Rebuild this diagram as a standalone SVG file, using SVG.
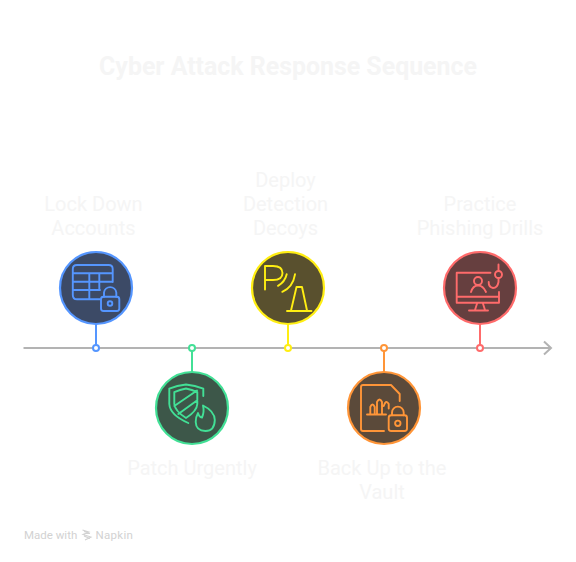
<svg xmlns="http://www.w3.org/2000/svg" width="576" height="562" viewBox="0 0 576 562">
<style>
.t{font-family:Roboto,"Liberation Sans",sans-serif;fill:#f5f5f5;text-anchor:middle}
.title{font-size:24.900px;font-weight:700}
.lab{font-size:20px;font-weight:400}
.ic{fill:none;stroke-width:1.900;stroke-linecap:round;stroke-linejoin:round}
.conn{fill:none;stroke-width:2}
.c{stroke-width:2.200}
.dot{fill:#fff;stroke-width:2}
.f{font-family:Roboto,"Liberation Sans",sans-serif;font-size:11.500px;fill:#d2d2d2}
</style>
<rect width="576" height="562" fill="#fff"/>
<text class="t title" x="288" y="75">Cyber Attack Response Sequence</text>
<g id="connectors">
<path d="M23.500 348H551M544 341.500L551 348L544 354.500" fill="none" stroke="#b3b3b3" stroke-width="2"/>
<path class="conn" stroke="#5596ff" d="M96 324V345"/>
<path class="conn" stroke="#42e096" d="M192 351V372"/>
<path class="conn" stroke="#ffee12" d="M288 324V345"/>
<path class="conn" stroke="#ff9538" d="M384 351V372"/>
<path class="conn" stroke="#ff6b6b" d="M480 324V345"/>
</g>
<g id="node-lock">
<circle class="c" cx="96" cy="288" r="36" fill="#3c4a66" stroke="#5596ff"/>
<circle class="dot" cx="96" cy="348" r="3" stroke="#5596ff"/>
<path class="ic" stroke="#5596ff" d="M112.700 282V269Q112.700 265 108.700 265H77Q72.800 265 72.800 269V295Q72.800 299.300 77 299.300H100M72.800 273.300H112.700M72.800 281.700H112.700M72.800 290H100M89.300 273.300V299.300M99.300 273.300V290"/>
<rect class="ic" stroke="#5596ff" x="101" y="296.700" width="18.300" height="14.300" rx="2.500"/>
<path class="ic" stroke="#5596ff" d="M104 296.700V292.500A6.200 6.200 0 0 1 116.300 292.500V296.700"/>
<circle class="ic" stroke="#5596ff" cx="110" cy="303.500" r="2.300"/>
<text class="t lab" x="93.500" y="211">Lock Down</text>
<text class="t lab" x="93.500" y="235">Accounts</text>
</g>
<g id="node-patch">
<circle class="c" cx="192" cy="408" r="36" fill="#3d5749" stroke="#42e096"/>
<circle class="dot" cx="192" cy="348" r="3" stroke="#42e096"/>
<path class="ic" stroke="#42e096" d="M203.300 396V388.700Q195 385.500 186 384.500Q177 385.500 169.300 388.700V404Q170 415 188.300 423"/>
<path class="ic" stroke="#42e096" d="M174.300 392.200Q180 389.500 186 388.500Q192 389.500 197.300 392.200V404Q197 411 186 418Q175 411 174.300 404ZM174.300 406L197 390.500M178.300 414L197.300 400.300"/>
<path class="ic" stroke="#42e096" d="M203 405.500Q214.500 411 214.800 420Q214.500 431 205.500 431Q196 431 195.700 422Q195.700 417 198 413Q199 417 202 417.500Q204.500 412 203 405.500Z"/>
<text class="t lab" x="192" y="475">Patch Urgently</text>
</g>
<g id="node-decoy">
<circle class="c" cx="288" cy="288" r="36" fill="#59502e" stroke="#ffee12"/>
<circle class="dot" cx="288" cy="348" r="3" stroke="#ffee12"/>
<path class="ic" stroke="#ffee12" d="M265 289.500V266H273Q282.500 266 282.500 273Q282.500 280 273 280H265M278 285.800Q285 282 286.700 274.300M282.300 291.800Q293 287 295 274.300"/>
<path class="ic" stroke="#ffee12" d="M287 311H311.500M291 310.500L296.500 287H302L307 310.500"/>
<text class="t lab" x="285.500" y="187">Deploy</text>
<text class="t lab" x="285.500" y="211">Detection</text>
<text class="t lab" x="285.500" y="235">Decoys</text>
</g>
<g id="node-backup">
<circle class="c" cx="384" cy="408" r="36" fill="#5b4a3a" stroke="#ff9538"/>
<circle class="dot" cx="384" cy="348" r="3" stroke="#ff9538"/>
<path class="ic" stroke="#ff9538" d="M384 431H363Q361 431 361 429V387Q361 385 363 385H391L399.700 394V401M367 414.500H386M370.300 414.500V407Q372.500 402 374.700 407V414.500M377 414.500V402Q379.500 397 382 402V414.500M383.700 406Q386 399 388.700 404V408.500"/>
<rect class="ic" stroke="#ff9538" x="388.700" y="415.300" width="18.300" height="15.700" rx="2.500"/>
<path class="ic" stroke="#ff9538" d="M392 415.300V412.500A5.800 5.800 0 0 1 403.700 412.500V415.300"/>
<circle class="ic" stroke="#ff9538" cx="397.800" cy="423.300" r="2.700"/>
<text class="t lab" x="382" y="475">Back Up to the</text>
<text class="t lab" x="382" y="499">Vault</text>
</g>
<g id="node-phish">
<circle class="c" cx="480" cy="288" r="36" fill="#663f3f" stroke="#ff6b6b"/>
<circle class="dot" cx="480" cy="348" r="3" stroke="#ff6b6b"/>
<path class="ic" stroke="#ff6b6b" d="M490.500 272.700H456.700V302.700H499V292M456.700 296.700H499M477.300 302.700L475 310M482.700 302.700L485 310M469 310.500H488M471 292Q473 285.500 478 285.500Q483 285.500 486 292"/>
<circle class="ic" stroke="#ff6b6b" cx="478" cy="281" r="4"/>
<circle class="ic" stroke="#ff6b6b" cx="498.500" cy="274.500" r="3.500"/>
<path class="ic" stroke="#ff6b6b" d="M498.500 264.500V271M498.500 278V282Q497.500 288 493 288Q488.500 287 488.700 282"/>
<text class="t lab" x="480" y="211">Practice</text>
<text class="t lab" x="480" y="235">Phishing Drills</text>
</g>
<g id="footer">
<text class="f" x="24" y="538.500">Made with</text>
<path d="M82.500 530L89 532L83 534.500L91 537L85 540M84 531.500L90 533.500M84 536L90 538.500" fill="none" stroke="#d2d2d2" stroke-width="1.100"/>
<text class="f" x="95.500" y="538.500" letter-spacing=".3">Napkin</text>
</g>
</svg>
